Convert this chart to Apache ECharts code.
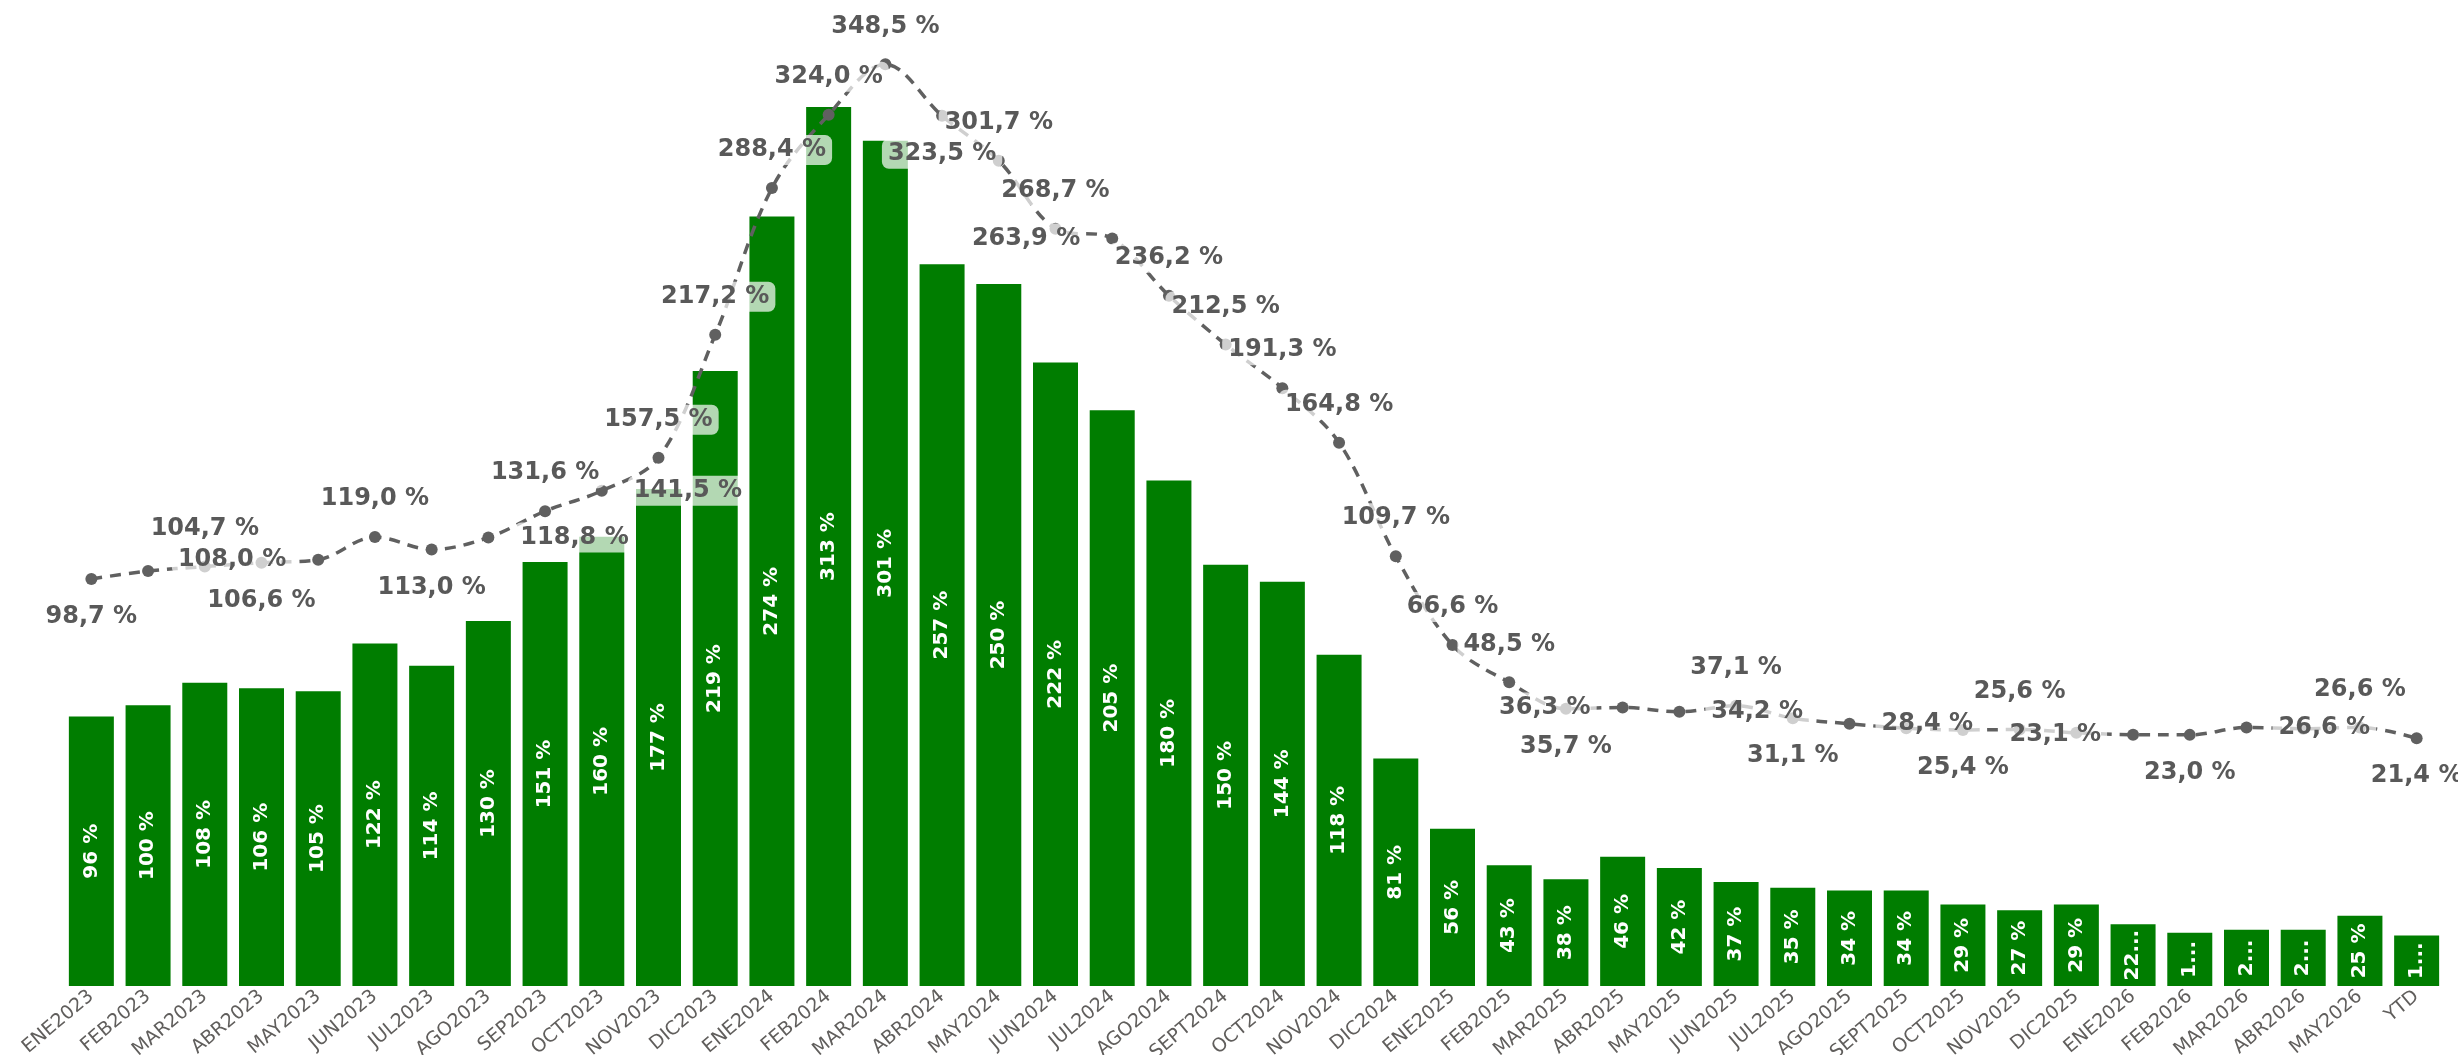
<!DOCTYPE html>
<html>
<head>
<meta charset="utf-8">
<script src="https://cdn.jsdelivr.net/npm/echarts@6/dist/echarts.min.js"></script>
<style>
  html, body { margin: 0; padding: 0; background: #ffffff; }
  #chart { width: 2458px; height: 1055px; }
</style>
</head>
<body>
<div id="chart"></div>
<script>
const categories = ['ENE2023','FEB2023','MAR2023','ABR2023','MAY2023','JUN2023','JUL2023','AGO2023','SEP2023','OCT2023','NOV2023','DIC2023',
  'ENE2024','FEB2024','MAR2024','ABR2024','MAY2024','JUN2024','JUL2024','AGO2024','SEPT2024','OCT2024','NOV2024','DIC2024',
  'ENE2025','FEB2025','MAR2025','ABR2025','MAY2025','JUN2025','JUL2025','AGO2025','SEPT2025','OCT2025','NOV2025','DIC2025',
  'ENE2026','FEB2026','MAR2026','ABR2026','MAY2026','YTD'];

const barValues = [96,100,108,106,105,122,114,130,151,160,177,219,
  274,313,301,257,250,222,205,180,150,144,118,81,
  56,43,38,46,42,37,35,34,34,29,27,29,
  22,19,20,20,25,18];

const lineValues = [98.7,102.5,104.7,106.6,108.0,119.0,113.0,118.8,131.6,141.5,157.5,217.2,
  288.4,324.0,348.5,323.5,301.7,268.7,263.9,236.2,212.5,191.3,164.8,109.7,
  66.6,48.5,35.7,36.3,34.2,37.1,31.1,28.4,26.2,25.4,25.6,24.0,
  23.1,23.0,26.6,26.0,26.6,21.4];

// label placement for each line point ('none' = label hidden, as in the reference)
const lineLabelPlacement = ['bottom','none','top','bottom','left','top','bottom','right','top','right','top','top',
  'top','top','top','bottom','top','top','left','top','top','top','top','top',
  'top','top','bottom','left','right','top','bottom','right','none','bottom','top','none',
  'left','bottom','right','none','top','bottom'];

const FONT = 'DejaVu Sans';
const fmtLine = v => v.toFixed(1).replace('.', ',') + ' %';

const lineData = lineValues.map((v, i) => {
  const p = lineLabelPlacement[i];
  if (p === 'none') return { value: v, label: { show: false } };
  return { value: v, label: { show: true, position: p, distance: (p === 'left' || p === 'right') ? 20 : 17 } };
});

const chart = echarts.init(document.getElementById('chart'), null, { renderer: 'canvas' });

const option = {
  backgroundColor: '#ffffff',
  animation: false,
  grid: { left: 63, right: 13, top: 20, bottom: 69, containLabel: false, outerBoundsMode: 'none' },
  xAxis: {
    type: 'category',
    data: categories,
    axisTick: { show: false },
    axisLine: { show: false },
    axisLabel: {
      interval: 0,
      rotate: 40,
      margin: 8,
      color: '#605e5c',
      fontFamily: FONT,
      fontSize: 19
    }
  },
  yAxis: [
    { type: 'value', min: 0, max: 344, show: false, splitLine: { show: false } },
    { type: 'value', min: -98.9, max: 370, show: false, splitLine: { show: false } }
  ],
  series: [
    {
      id: 'bars',
      type: 'bar',
      yAxisIndex: 0,
      data: barValues,
      barWidth: 45,
      itemStyle: { color: '#007d00' },
      label: {
        show: true,
        position: 'inside',
        rotate: 90,
        color: '#ffffff',
        fontFamily: FONT,
        fontWeight: 'bold',
        fontSize: 20,
        formatter: p => p.value + ' %'
      }
    },
    {
      id: 'line',
      type: 'line',
      yAxisIndex: 1,
      data: lineData,
      smooth: 0.35,
      symbol: 'circle',
      symbolSize: 12,
      itemStyle: { color: '#606060' },
      lineStyle: { color: '#606060', width: 3.5, type: [11, 8] },
      label: {
        show: true,
        color: '#595959',
        fontFamily: FONT,
        fontWeight: 'bold',
        fontSize: 24,
        backgroundColor: 'rgba(255,255,255,0.7)',
        borderRadius: 7,
        padding: [3, 6],
        formatter: p => fmtLine(p.value)
      },
      z: 5
    }
  ]
};

chart.setOption(option);

// truncate bar labels that do not fit in their bar, like the reference
const base = chart.convertToPixel({ yAxisIndex: 0 }, 0);
const barData = barValues.map(v => {
  const h = base - chart.convertToPixel({ yAxisIndex: 0 }, v);
  return { value: v, label: { width: Math.max(h - 7, 8), overflow: 'truncate', ellipsis: '...' } };
});
chart.setOption({ series: [{ id: 'bars', data: barData }] });
</script>
</body>
</html>
